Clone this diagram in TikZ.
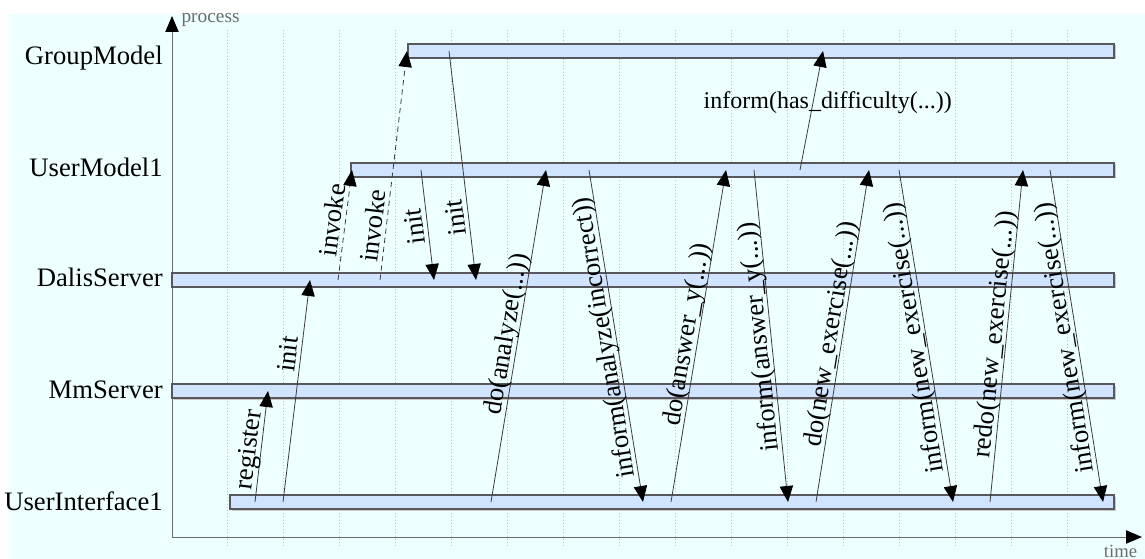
\documentclass[tikz,border=0pt]{standalone}
\usepackage{fontspec}
\setmainfont{Liberation Serif}
\usetikzlibrary{arrows.meta}

\definecolor{bgcyan}{RGB}{238,255,255}
\definecolor{lanefill}{RGB}{208,228,255}
\definecolor{laneline}{RGB}{88,88,92}
\definecolor{msgline}{RGB}{60,60,60}

\tikzset{
  tip/.style={-{Triangle[length=12pt,width=10pt,color=black]}},
  lanebar/.style={fill=lanefill, draw=laneline, line width=0.8pt},
  laneshadow/.style={fill=black!22},
  lanename/.style={anchor=base east, inner sep=0pt, font=\fontsize{20}{24}\selectfont},
  msg/.style={tip, draw=msgline, line width=0.6pt},
  call/.style={msg, dash pattern=on 4pt off 3pt},
  uplabel/.style={sloped, anchor=south, text depth=0pt, inner xsep=0pt, inner ysep=3pt,
    font=\fontsize{20}{24}\selectfont},
  downlabel/.style={uplabel, rotate=180},
}

\begin{document}
\begin{tikzpicture}[x=0.75pt, y=-0.75pt]
\useasboundingbox (0,0) rectangle (1145,559);

% background and time grid
\fill[bgcyan] (8,14) rectangle (1145,559);
\foreach \gx in {0,...,15}
  \draw[black!25, dotted] (227+56*\gx,30) -- (227+56*\gx,548);

% draw axes
\draw [{Triangle[length=12pt,width=10pt,color=black]}-{Triangle[length=12pt,width=10pt,color=black]}, gray!85!black, line width=0.7pt]
  (172,16) node (yaxis) [anchor=base west, xshift=3.5pt, yshift=-5pt, font=\fontsize{14.5}{16}\selectfont] {process}
  |- (1142,537) node (xaxis) [anchor=base east, yshift=-15pt, font=\fontsize{14}{16}\selectfont] {time};

% draw process lanes
\foreach \lid/\lname/\ly/\lx/\lb in {gm/GroupModel/51/408/65, um/UserModel1/170/351/177,
    ds/DalisServer/280/172/287, ms/MmServer/391/172/398, ui/UserInterface1/502/230/510} {
  \fill[laneshadow] (\lx+1.5,\ly-5.5) rectangle (1116,\ly+8.5);
  \draw[lanebar] (\lx,\ly-7) rectangle (1114,\ly+7);
  \coordinate (\lid) at (\lx,\ly);
  \node[lanename] (\lid-name) at (163,\lb) {\lname};
}

% startup messages
\draw[msg] (255,0 |- ui) -- node[uplabel, pos=.46] {register} (268,0 |- ms);
\draw[msg] (283,0 |- ui) -- node[uplabel, pos=.66] {init} (310,0 |- ds);
\draw[call] (338,0 |- ds) -- node[uplabel, pos=.53] {invoke} (352,0 |- um);
\draw[call] (380,0 |- ds) -- node[uplabel, pos=.23] {invoke} (407,0 |- gm);
\draw[msg] (421,0 |- um) -- node[downlabel, pos=.5] {init} (434,0 |- ds);
\draw[msg] (449,0 |- gm) -- node[downlabel, pos=.72] {init} (476,0 |- ds);

% exercise messages
\draw[msg] (491,0 |- ui) -- node[uplabel] {do(analyze(...))} (546,0 |- um);
\draw[msg] (589,0 |- um) -- node[downlabel] {inform(analyze(incorrect))} (643,0 |- ui);
\draw[msg] (671,0 |- ui) -- node[uplabel] {do(answer\_y(...))} (726,0 |- um);
\draw[msg] (754,0 |- um) -- node[downlabel] {inform(answer\_y(...))} (788,0 |- ui);
\draw[msg] (816,0 |- ui) -- node[uplabel] {do(new\_exercise(...))} (869,0 |- um);
\draw[msg] (899,0 |- um) -- node[downlabel] {inform(new\_exercise(...))} (953,0 |- ui);
\draw[msg] (990,0 |- ui) -- node[uplabel] {redo(new\_exercise(...))} (1023,0 |- um);
\draw[msg] (1050,0 |- um) -- node[downlabel] {inform(new\_exercise(...))} (1103,0 |- ui);
\draw[msg] (800,0 |- um) -- node[pos=.57, xshift=11pt, font=\fontsize{18}{22}\selectfont] {inform(has\_difficulty(...))} (823,0 |- gm);

\end{tikzpicture}
\end{document}
